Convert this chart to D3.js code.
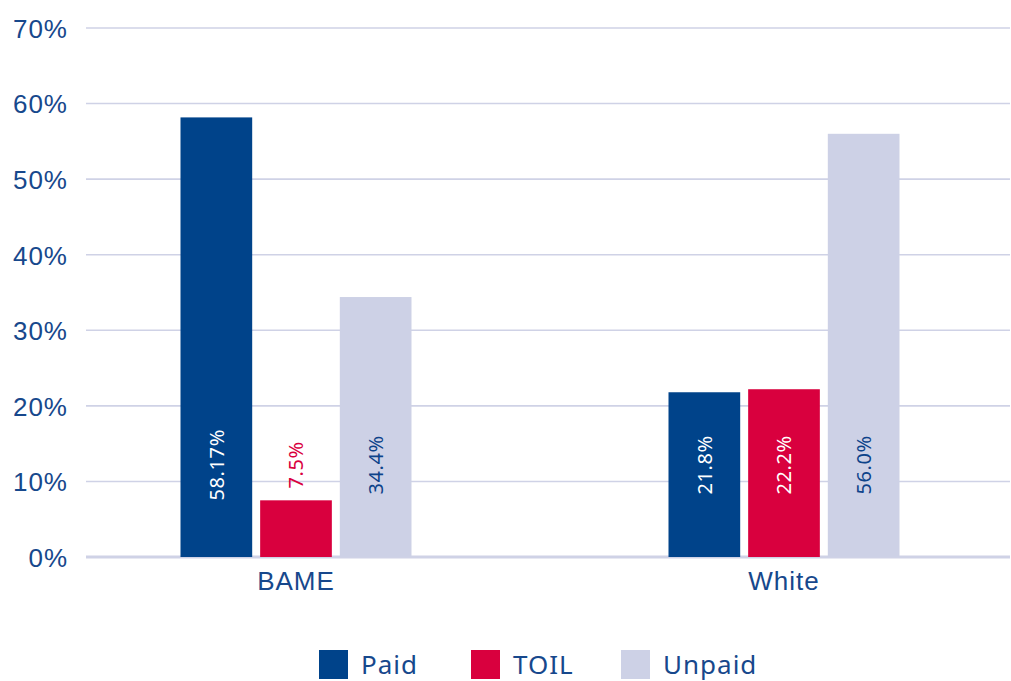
<!DOCTYPE html>
<html>
<head>
<meta charset="utf-8">
<script src="https://cdn.jsdelivr.net/npm/d3@7"></script>
<style>
  html, body { margin: 0; padding: 0; background: #fff; }
  svg { display: block; font-family: "Noto Sans", "Open Sans", sans-serif; }
</style>
</head>
<body>
<svg id="chart" width="1011" height="681"></svg>
<script>
// Chart data
const categories = ["BAME", "White"];
const seriesNames = ["Paid", "TOIL", "Unpaid"];
const paid = [58.17, 21.8];
const toil = [7.5, 22.2];
const unpaid = [34.4, 56.0];
const valueLabels = {
  Paid: ["58.17%", "21.8%"],
  TOIL: ["7.5%", "22.2%"],
  Unpaid: ["34.4%", "56.0%"]
};
const yTicks = [0, 10, 20, 30, 40, 50, 60, 70];

const seriesValues = { Paid: paid, TOIL: toil, Unpaid: unpaid };
const colors = { Paid: "#00438a", TOIL: "#d9003e", Unpaid: "#cdd1e6" };
const textColor = "#17488c";

const svg = d3.select("#chart");

const y = d3.scaleLinear().domain([0, 70]).range([557, 28]);
const x0 = d3.scaleBand().domain(categories).range([52, 1028]).paddingInner(0).paddingOuter(0);
const x1 = d3.scaleBand().domain(seriesNames).range([0, 231]).paddingInner(0.1).paddingOuter(0);

// Value labels sit at a fixed height; light text when inside a dark bar
const labelValue = 12.2;
function labelColor(series, v) {
  if (series === "Unpaid") return "#0d438a";
  if (series === "TOIL" && v < 16) return colors.TOIL;
  return "#ffffff";
}

// Gridlines
svg.append("g")
  .selectAll("line")
  .data(yTicks)
  .join("line")
  .attr("x1", 86)
  .attr("x2", 1010)
  .attr("y1", d => y(d))
  .attr("y2", d => y(d))
  .attr("stroke", "#cfd2e6")
  .attr("stroke-width", d => d === 0 ? 3 : 1.6);

// Y axis labels
const yAxis = d3.axisLeft(y)
  .tickValues(yTicks)
  .tickFormat(d => d + "%")
  .tickSize(0)
  .tickPadding(0);
const yg = svg.append("g").attr("transform", "translate(68,0)").call(yAxis);
yg.select(".domain").remove();
yg.selectAll("text")
  .attr("fill", textColor)
  .attr("font-size", 26)
  .attr("letter-spacing", 1)
  .attr("dy", "0.36em");

// Bars
const groups = svg.append("g")
  .selectAll("g")
  .data(categories)
  .join("g")
  .attr("transform", (d) => `translate(${x0(d) + x0.bandwidth() / 2 - 115.5},0)`);

groups.each(function(cat, ci) {
  const g = d3.select(this);
  seriesNames.forEach(s => {
    const v = seriesValues[s][ci];
    g.append("rect")
      .attr("x", x1(s))
      .attr("y", y(v))
      .attr("width", x1.bandwidth())
      .attr("height", y(0) - y(v))
      .attr("fill", colors[s]);
    const cx = x1(s) + x1.bandwidth() / 2;
    const cy = y(labelValue);
    g.append("text")
      .attr("transform", `translate(${cx},${cy}) rotate(-90)`)
      .attr("text-anchor", "middle")
      .attr("dy", "0.36em")
      .attr("font-size", 20)
      .attr("letter-spacing", 0.6)
      .attr("fill", labelColor(s, v))
      .text(valueLabels[s][ci]);
  });
});

// X axis labels
const xAxis = d3.axisBottom(x0).tickSize(0).tickPadding(0);
const xg = svg.append("g").attr("transform", "translate(0,572)").call(xAxis);
xg.select(".domain").remove();
xg.selectAll("text")
  .attr("fill", textColor)
  .attr("font-size", 26)
  .attr("letter-spacing", 1)
  .attr("dy", "0.71em");

// Legend
const legendX = [319, 471, 621];
const legend = svg.append("g")
  .selectAll("g")
  .data(seriesNames)
  .join("g")
  .attr("transform", (d, i) => `translate(${legendX[i]},650)`);
legend.append("rect")
  .attr("width", 29)
  .attr("height", 29)
  .attr("fill", d => colors[d]);
legend.append("text")
  .attr("x", 42)
  .attr("y", 14.5)
  .attr("dy", "0.36em")
  .attr("font-size", 26)
  .attr("letter-spacing", 1)
  .attr("fill", textColor)
  .text(d => d);
</script>
</body>
</html>
